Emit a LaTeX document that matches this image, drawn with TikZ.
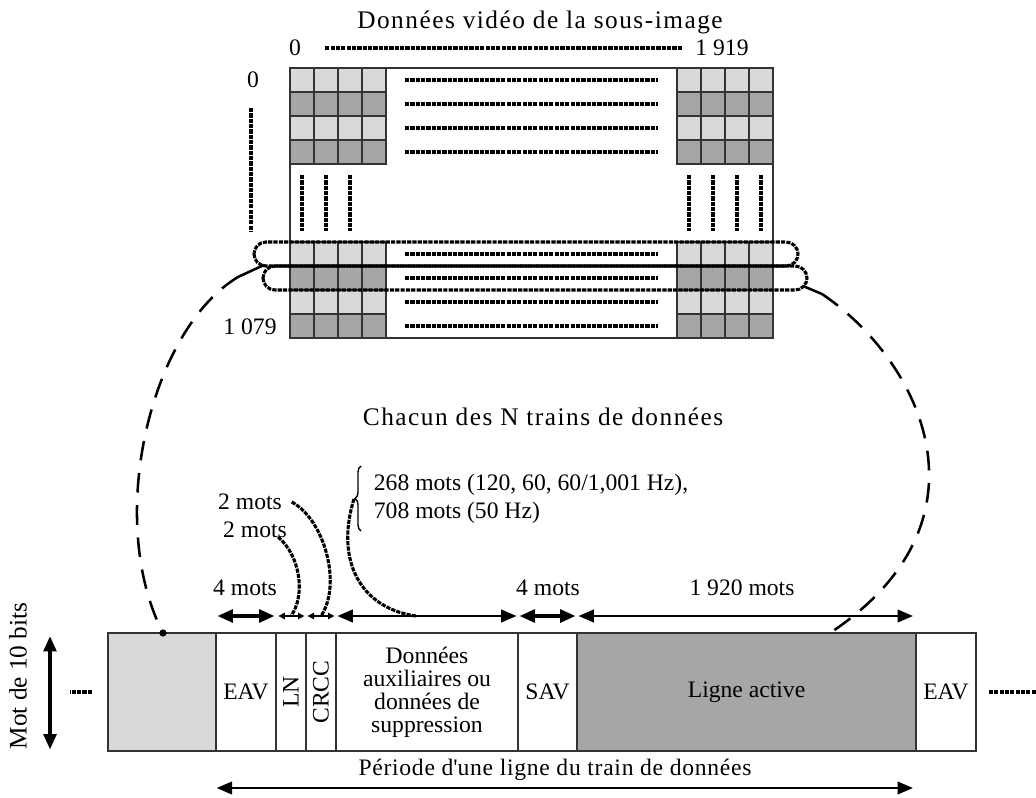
\documentclass[tikz,border=0pt]{standalone}
\usepackage{fontspec}
\setmainfont{Liberation Serif}
\usepackage{graphicx}
\usetikzlibrary{arrows.meta,decorations.pathreplacing}

\definecolor{grisclair}{gray}{0.85}
\definecolor{grisfonce}{gray}{0.65}

\tikzset{
    pointille/.style={line width=1.1pt, dash pattern=on 1.5pt off 0.4pt},
    tirets/.style={line width=0.9pt, dash pattern=on 7pt off 4.5pt},
    fleche/.style={arrows={Triangle[length=1.9mm,width=1.6mm]-Triangle[length=1.9mm,width=1.6mm]}, line width=0.5pt},
    flechegrasse/.style={fleche, line width=1.1pt},
    petitefleche/.style={arrows={Triangle[length=0.8mm,width=0.8mm]-Triangle[length=0.8mm,width=0.8mm]}, line width=0.5pt},
    case/.style={draw=black!80, line width=0.7pt},
    segment/.style={draw=black!80, line width=0.6pt, anchor=north west, inner sep=0pt, outer sep=0pt, minimum height=14.75mm},
    espace/.style={font=\fontsize{9}{10.8}\selectfont\addfontfeature{LetterSpace=6}},
}

\begin{document}
\begin{tikzpicture}[x=0.125mm, y=-0.125mm, font=\fontsize{8.4}{10}\selectfont]
    \useasboundingbox (0,0) rectangle (1036,798);

    % Titre et numerotation des colonnes
    \node[espace] (titre) at (540,22) {Données vidéo de la sous-image};
    \node (col0) at (295,48) {0};
    \node (colfin) at (722,48) {1 919};
    \draw[pointille, shorten <=1.8mm, shorten >=0.5mm] (col0) -- (colfin);

    % Sous-image : cadre et pixels
    \draw[draw=black!80, line width=0.5pt] (290,68) rectangle (773,338);
    \foreach \bx in {290,677}
        \foreach \by in {68,242}
            \foreach \j/\coul in {0/grisclair,1/grisfonce,2/grisclair,3/grisfonce}
                \foreach \i in {0,...,3}
                    \draw[case, fill=\coul] ({\bx+24*\i},{\by+24*\j}) rectangle +(24,24);

    % Pointilles entre les pixels
    \foreach \by in {68,242}
        \foreach \j in {0,...,3}
            \draw[pointille] (405,{\by+12+24*\j}) -- (658,{\by+12+24*\j});
    \foreach \x in {302,326,350,689,713,737,761}
        \draw[pointille] (\x,175) -- (\x,231);

    % Numerotation des lignes
    \node (lig0) at (253,80) {0};
    \node (ligfin) at (250,327) {1 079};
    \draw[pointille] (251,108) -- (251,231);

    % Boucles sur deux lignes
    \draw[pointille, rounded corners=1.5mm] (254,242) rectangle (798,266);
    \draw[pointille, rounded corners=1.5mm] (263,266) rectangle (807,290);
    \coordinate (jonctionG) at (264,265);
    \coordinate (jonctionD) at (803,286);

    % Train de donnees
    \node[espace, anchor=west] (chacun) at (353,417) {Chacun des N trains de données};

    \node[segment, fill=grisclair, minimum width=13.5mm] (gris) at (108,633) {};
    \node[segment, minimum width=7.5mm] (eavA) at (gris.north east) {EAV};
    \node[segment, minimum width=3.75mm] (ln) at (eavA.north east) {\rotatebox{90}{LN}};
    \node[segment, minimum width=3.75mm] (crcc) at (ln.north east) {\rotatebox{90}{CRCC}};
    \node[segment, minimum width=22.75mm, align=center, font=\fontsize{8.4}{8.2}\selectfont] (aux) at (crcc.north east) {Données\\auxiliaires ou\\données de\\suppression};
    \node[segment, minimum width=7.375mm] (sav) at (aux.north east) {SAV};
    \node[segment, fill=grisfonce, minimum width=42.375mm] (actif) at (sav.north east) {Ligne active};
    \node[segment, minimum width=7.5mm] (eavB) at (actif.north east) {EAV};

    \draw[pointille] ([xshift=-2mm]gris.west) -- ++(-22,0);
    \draw[pointille] ([xshift=1.6mm]eavB.east) -- ++(48,0);

    % Mot de 10 bits
    \node[rotate=90, font=\fontsize{9}{10}\selectfont] (motbits) at (18,676) {Mot de 10 bits};
    \draw[flechegrasse] ([xshift=-7.25mm, yshift=-0.4mm]gris.north west) -- ([xshift=-7.25mm, yshift=0.2mm]gris.south west);

    % Cotes au-dessus
    \draw[flechegrasse, shorten <=0.2mm, shorten >=0.2mm] ([yshift=2.125mm]eavA.north west) -- ([yshift=2.125mm]eavA.north east);
    \draw[petitefleche, shorten <=0.3mm, shorten >=0.2mm] ([yshift=2.125mm]ln.north west) -- ([yshift=2.125mm]ln.north east);
    \draw[petitefleche, shorten <=0.2mm, shorten >=0.2mm] ([yshift=2.125mm]crcc.north west) -- ([yshift=2.125mm]crcc.north east);
    \draw[fleche, shorten <=0.2mm, shorten >=0.2mm] ([yshift=2.125mm]aux.north west) -- ([yshift=2.125mm]aux.north east);
    \draw[flechegrasse, shorten <=0.2mm, shorten >=0.2mm] ([yshift=2.125mm]sav.north west) -- ([yshift=2.125mm]sav.north east);
    \draw[fleche, shorten <=0.2mm, shorten >=0.4mm] ([yshift=2.125mm]actif.north west) -- ([yshift=2.125mm]actif.north east);
    \node (motsA) at (245,588) {4 mots};
    \node (motsB) at (548,588) {4 mots};
    \node (motsC) at (742,588) {1 920 mots};

    % Periode d'une ligne
    \node[font=\fontsize{8.4}{10}\selectfont\addfontfeature{LetterSpace=3}] (periode) at (555,770) {Période d\textquotesingle une ligne du train de données};
    \draw[fleche, shorten <=0.1mm, shorten >=0.4mm] ([yshift=-4.625mm]eavA.south west) -- ([yshift=-4.625mm]actif.south east);

    % Renvois vers LN, CRCC et donnees auxiliaires
    \node (deuxA) at (250,502) {2 mots};
    \node (deuxB) at (255,530) {2 mots};
    \coordinate (departB) at (278,537);
    \node[anchor=west, align=left, font=\fontsize{8.4}{9.9}\selectfont] (accolade) at (364,499) {268 mots (120, 60, 60/1,001 Hz),\\708 mots (50 Hz)};
    \draw[line width=0.5pt, decorate, decoration={brace, amplitude=0.75mm}] (361,531) -- (361,466);
    \coordinate (pointe) at (354,499);
    \draw[pointille] (deuxA.east) .. controls (325,520) and (342,585) .. ([yshift=2.125mm]crcc.north);
    \draw[pointille] (departB) .. controls (300,555) and (306,595) .. ([yshift=2.125mm]ln.north);
    \draw[pointille] (pointe) .. controls (335,560) and (360,608) .. ([xshift=-1.4mm, yshift=2.125mm]aux.north);

    % Liaisons vers la ligne
    \coordinate (arriveeG) at (163,633);
    \coordinate (arriveeD) at (830,633);
    \draw[line width=0.9pt] (jonctionG) -- (238,277) coordinate (debutG);
    \draw[tirets] (debutG) .. controls (150,330) and (105,520) .. (arriveeG);
    \fill (arriveeG) circle[radius=1.3pt];
    \draw[line width=0.9pt] (jonctionD) -- (822,294) coordinate (debutD);
    \draw[tirets] (debutD) .. controls (920,360) and (1000,520) .. (arriveeD);
\end{tikzpicture}
\end{document}
